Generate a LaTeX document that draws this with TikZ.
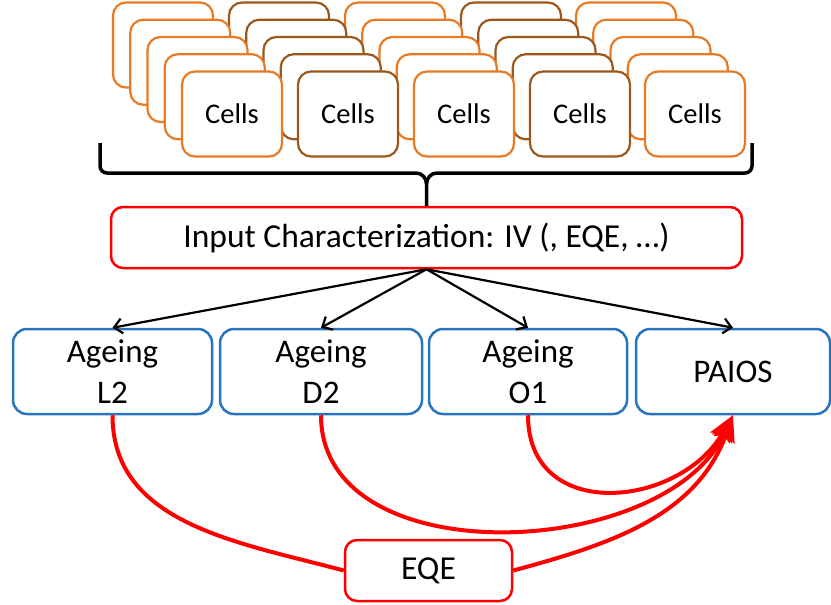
\documentclass[tikz,border=0pt]{standalone}
\usepackage{fontspec}
\setmainfont{Carlito}
\usetikzlibrary{arrows.meta, positioning}
\definecolor{cellorange}{RGB}{232,122,36}
\definecolor{cellbrown}{RGB}{156,88,28}
\definecolor{ageblue}{RGB}{40,116,190}

\begin{document}
\begin{tikzpicture}[
  x=1pt, y=1pt,
  cell/.style={rectangle, draw, line width=2.2pt, rounded corners=13pt, fill=white, minimum width=100pt, minimum height=85pt, inner sep=0pt, font=\fontsize{28.5}{34}\selectfont},
  redbox/.style={rectangle, draw=red, line width=2.5pt, rounded corners=12pt, fill=white, minimum height=61pt, inner sep=0pt, font=\fontsize{33.5}{40}\selectfont},
  agebox/.style={rectangle, draw=ageblue, line width=2.5pt, rounded corners=14pt, minimum height=85pt, inner sep=0pt, align=center, font=\fontsize{33}{41}\selectfont},
  arrow/.style={-{Straight Barb[length=8pt, width=15pt]}, line width=2.2pt},
  eqearrow/.style={-{Stealth[length=26pt, width=22pt, inset=5pt]}, red, line width=4pt},
]
\useasboundingbox (0,0) rectangle (831,-605);

% Cells (stacks, back to front)
\foreach \k in {0,...,3}{
  \foreach \s/\col/\x in {1/cellorange/232, 2/cellbrown/348, 3/cellorange/464, 4/cellbrown/580, 5/cellorange/695}{
    \node[cell, draw=\col] (c\s-\k) at ({\x+(\k-4)*17.25}, {-114-(\k-4)*17.25}) {};
  }
}
\foreach \s/\col/\x in {1/cellorange/232, 2/cellbrown/348, 3/cellorange/464, 4/cellbrown/580, 5/cellorange/695}{
  \node[cell, draw=\col] (cells\s) at (\x,-114) {Cells};
}

% Input
\node[redbox, minimum width=631pt] (input) at (426.5,-237.5) {Input Characterization: IV (, EQE, \dots)};

% Brace
\draw[line width=3.5pt] (100,-143) -- (100,-166) to[out=-90,in=180] (107,-173) -- (416,-173)
  to[out=0,in=90] (426.5,-184) -- (input.north);
\draw[line width=3.5pt] (752,-143) -- (752,-166) to[out=-90,in=0] (745,-173) -- (437,-173)
  to[out=180,in=90] (426.5,-184);

% Ageing
\node[agebox, minimum width=199pt] (l2) at (112.5,-371.5) {Ageing\\L2};
\node[agebox, minimum width=202pt] (d2) at (321,-371.5) {Ageing\\D2};
\node[agebox, minimum width=198pt] (o1) at (528,-371.5) {Ageing\\O1};
\node[agebox, minimum width=194pt] (paios) at (733,-371.5) {PAIOS};

% Arrows
\draw[arrow] (input.south) -- (l2.north);
\draw[arrow] (input.south) -- (d2.north);
\draw[arrow] (input.south) -- (o1.north);
\draw[arrow] (input.south) -- (paios.north);

% EQE
\node[redbox, minimum width=167pt] (eqe) at (428.5,-570.5) {EQE};
\draw[red, line width=4pt] (l2.south) to[out=-90, in=165] (eqe.west);
\draw[eqearrow] (eqe.east) to[out=15, in=-110] (paios.south);
\draw[eqearrow] (d2.south) to[out=-90, in=-115] (paios.south);
\draw[eqearrow] (o1.south) to[out=-90, in=-120, looseness=1.35] (paios.south);

\end{tikzpicture}
\end{document}
